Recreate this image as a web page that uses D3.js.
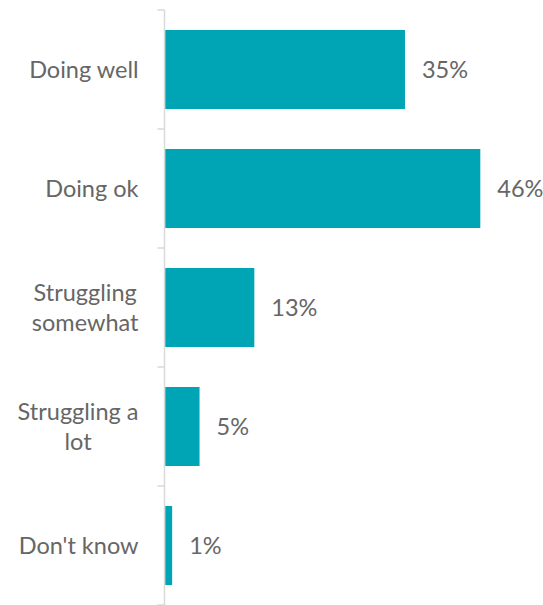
<!DOCTYPE html>
<html>
<head>
<meta charset="utf-8">
<script src="https://cdn.jsdelivr.net/npm/d3@7"></script>
<style>
  html, body { margin: 0; padding: 0; background: #fff; }
  svg { display: block; }
  text { font-family: Lato, "Open Sans", sans-serif; fill: #666; }
</style>
</head>
<body>
<svg id="chart" width="543" height="605"></svg>
<script>
// Survey responses: how people say they are getting on
const categories = [
  ["Doing well"],
  ["Doing ok"],
  ["Struggling", "somewhat"],
  ["Struggling a", "lot"],
  ["Don't know"]
];
const values = [35, 46, 13, 5, 1];
const valueLabels = ["35%", "46%", "13%", "5%", "1%"];

const svg = d3.select("#chart");
const axisX = 164.5;
const barColor = "#00A5B5";
const fontSize = 23.5;

const keys = categories.map(c => c.join(" "));

const y = d3.scaleBand()
  .domain(keys)
  .range([10, 605])
  .paddingInner(0.336)
  .paddingOuter(0.168);

const x = d3.scaleLinear()
  .domain([0, 50])
  .range([axisX + 0.8, axisX + 0.8 + 342.4]);

// Category axis: vertical rule with ticks between the categories
const step = y.step();
const boundaries = d3.range(keys.length + 1).map(i => 10 + i * step);
const axisG = svg.append("g");
axisG.append("line")
  .attr("x1", axisX).attr("x2", axisX)
  .attr("y1", 10).attr("y2", 605)
  .attr("stroke", "#d9d9d9").attr("stroke-width", 1.5);
axisG.selectAll("line.tick")
  .data(boundaries)
  .join("line")
  .attr("class", "tick")
  .attr("x1", axisX - 7).attr("x2", axisX)
  .attr("y1", d => d).attr("y2", d => d)
  .attr("stroke", "#d9d9d9").attr("stroke-width", 1.5);

// Bars
svg.append("g")
  .selectAll("rect")
  .data(values)
  .join("rect")
  .attr("x", x(0))
  .attr("y", (d, i) => y(keys[i]))
  .attr("width", d => x(d) - x(0))
  .attr("height", y.bandwidth())
  .attr("fill", barColor);

// Value labels
svg.append("g")
  .selectAll("text")
  .data(values)
  .join("text")
  .attr("x", d => x(d) + 17)
  .attr("y", (d, i) => y(keys[i]) + y.bandwidth() / 2)
  .attr("dy", "0.36em")
  .attr("font-size", fontSize)
  .text((d, i) => valueLabels[i]);

// Category labels: centred lines, block right-aligned against the axis
const labelRight = 138.5;
const lineH = 30;
categories.forEach((lines, i) => {
  const cy = y(keys[i]) + y.bandwidth() / 2;
  const g = svg.append("g");
  const texts = g.selectAll("text")
    .data(lines)
    .join("text")
    .attr("font-size", fontSize)
    .attr("text-anchor", "middle")
    .attr("dy", "0.36em")
    .attr("y", (d, j) => cy + (j - (lines.length - 1) / 2) * lineH)
    .text(d => d);
  const maxW = d3.max(texts.nodes(), n => n.getComputedTextLength());
  texts.attr("x", labelRight - maxW / 2);
});
</script>
</body>
</html>
